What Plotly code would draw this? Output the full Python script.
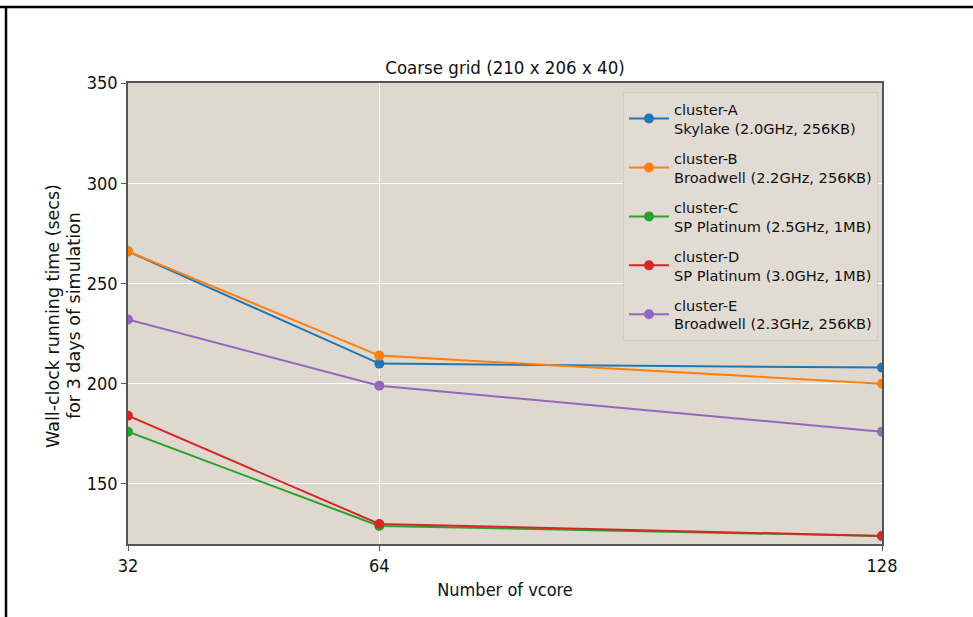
import plotly.graph_objects as go

vcores = [32, 64, 128]
series_names = [
    "cluster-A<br>Skylake (2.0GHz, 256KB)",
    "cluster-B<br>Broadwell (2.2GHz, 256KB)",
    "cluster-C<br>SP Platinum (2.5GHz, 1MB)",
    "cluster-D<br>SP Platinum (3.0GHz, 1MB)",
    "cluster-E<br>Broadwell (2.3GHz, 256KB)",
]
cluster_a = [266, 210, 208]
cluster_b = [266, 214, 200]
cluster_c = [176, 129, 124]
cluster_d = [184, 130, 124]
cluster_e = [232, 199, 176]
series_values = [cluster_a, cluster_b, cluster_c, cluster_d, cluster_e]
colors = ["#1f77b4", "#ff7f0e", "#2ca02c", "#d62728", "#9467bd"]
y_ticks = [150, 200, 250, 300, 350]
x_ticks = [32, 64, 128]
y_title_lines = ["Wall-clock running time (secs)", "for 3 days of simulation"]

fig = go.Figure()
for i, (name, vals, c) in enumerate(zip(series_names, series_values, colors)):
    fig.add_trace(go.Scatter(
        x=vcores, y=vals, name=name, mode="lines+markers", legendgroup=f"g{i}",
        line=dict(color=c, width=2), marker=dict(color=c, size=10),
    ))

W, H = 973, 617
ml, mr, mt, mb = 128, 91, 83, 73
pw, ph = W - ml - mr, H - mt - mb

def px_x(p):
    return (p - ml) / pw

def px_y(p):
    return (H - mb - p) / ph

cond = "DejaVu Sans Condensed, DejaVu Sans"
tick_font = dict(family=cond, size=18, color="#111")
fig.update_layout(
    width=W, height=H,
    margin=dict(l=ml, r=mr, t=mt, b=mb),
    paper_bgcolor="white",
    plot_bgcolor="#dfd8cf",
    title=dict(text="Coarse grid (210 x 206 x 40)", x=505 / W, xanchor="center",
               y=1 - 68 / H, yanchor="middle",
               font=dict(family=cond, size=18.5, color="#111")),
    xaxis=dict(range=[32, 128], tickvals=x_ticks, ticktext=[str(v) for v in x_ticks],
               showgrid=True, gridcolor="white", gridwidth=1, zeroline=False,
               showline=True, linecolor="#555", linewidth=1.5, mirror=True,
               ticks="outside", ticklen=5, tickcolor="#555", tickfont=tick_font,
               title=dict(text="Number of vcore", standoff=8,
                          font=dict(family=cond, size=18, color="#111"))),
    yaxis=dict(range=[120, 350], tickvals=y_ticks, ticktext=[str(v) for v in y_ticks],
               showgrid=True, gridcolor="white", gridwidth=1, zeroline=False,
               showline=True, linecolor="#555", linewidth=1.5, mirror=True,
               ticks="outside", ticklen=5, tickcolor="#555", tickfont=tick_font),
    legend=dict(x=px_x(623), y=px_y(92), xanchor="left", yanchor="top",
                bgcolor="rgba(226,219,211,0.95)", bordercolor="#d0ccc6", borderwidth=1,
                font=dict(family="DejaVu Sans", size=14.6, color="#111"),
                tracegroupgap=8, itemwidth=40),
    showlegend=True,
    shapes=[
        dict(type="line", xref="paper", yref="paper", x0=px_x(0), x1=px_x(W), y0=px_y(7), y1=px_y(7),
             line=dict(color="black", width=2.5)),
        dict(type="line", xref="paper", yref="paper", x0=px_x(6), x1=px_x(6), y0=px_y(7), y1=px_y(H),
             line=dict(color="black", width=2.5)),
    ],
)
for txt, xp in zip(y_title_lines, [53, 74]):
    fig.add_annotation(text=txt, xref="paper", yref="paper", x=px_x(xp), y=px_y(316),
                       xanchor="center", yanchor="middle", textangle=-90, showarrow=False,
                       font=dict(family="DejaVu Sans", size=17.5, color="#111"))

fig.write_html("out.html")
